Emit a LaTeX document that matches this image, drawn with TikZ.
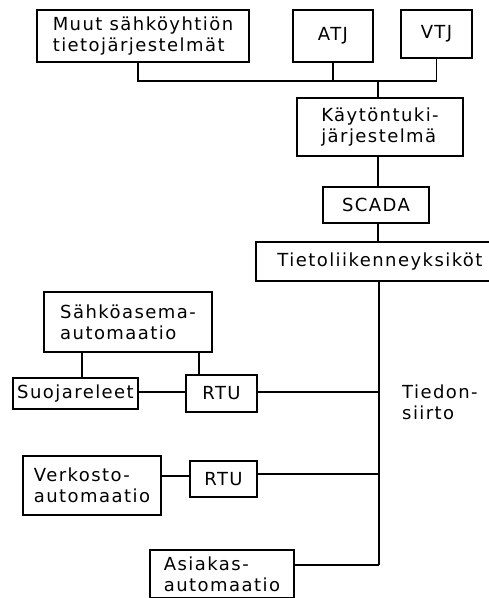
\documentclass[tikz,border=0pt]{standalone}
\usepackage{fontspec}
\setmainfont{DejaVu Sans}[LetterSpace=8]
\begin{document}
\begin{tikzpicture}[x=1pt,y=-1pt,
  box/.style={draw,line width=1.4pt,inner sep=0pt,align=left,font=\fontsize{18}{21}\selectfont},
  wire/.style={line width=1.4pt},
  lbl/.style={inner sep=0pt,align=left,font=\fontsize{18}{21}\selectfont}]
\useasboundingbox (0,0) rectangle (489,598);
\node[box,minimum width=212,minimum height=52] (muut) at (143,36) {Muut sähköyhtiön\\tietojärjestelmät};
\node[box,minimum width=80,minimum height=52] (atj) at (333,36) {ATJ};
\node[box,minimum width=71,minimum height=48] (vtj) at (436.5,34) {VTJ};
\node[box,minimum width=166,minimum height=58] (kayt) at (380,127) {Käytöntuki-\\järjestelmä};
\node[box,minimum width=106,minimum height=36] (scada) at (376,205) {SCADA};
\node[box,minimum width=238,minimum height=39] (tieto) at (375,261.5) {\hspace*{10pt}Tietoliikenneyksiköt};
\node[box,minimum width=168,minimum height=60] (sahko) at (128,322) {Sähköasema-\\automaatio};
\node[box,minimum width=125,minimum height=31] (suoja) at (75.5,393.5) {Suojareleet};
\node[box,minimum width=71,minimum height=37] (rtu1) at (221.5,393.5) {RTU};
\node[box,minimum width=138,minimum height=59] (verk) at (92,485.5) {Verkosto-\\automaatio};
\node[box,minimum width=67,minimum height=36] (rtu2) at (223.5,479) {RTU};
\node[box,minimum width=144,minimum height=48] (asiak) at (222,574) {Asiakas-\\automaatio};
\node[lbl,anchor=west] (tiedon) at (402,402) {Tiedon-\\siirto};
\coordinate (bus) at (378,81);
\coordinate (trunk) at (379,565);
% top bus
\draw[wire] ([xshift=-5pt]muut.south) |- (bus) -| (vtj.south);
\draw[wire] (atj.south) -- (atj.south |- bus);
\draw[wire] (bus) -- (bus |- kayt.north);
\draw[wire] (kayt.south -| bus) -- (scada.north -| bus);
\draw[wire] (scada.south -| bus) -- (tieto.north -| bus);
\draw[wire] (tieto.south -| trunk) -- (trunk);
% substation
\draw[wire] ([xshift=6.5pt]suoja.north) -- ([xshift=6.5pt]suoja.north |- sahko.south);
\draw[wire] ([xshift=-22.5pt]rtu1.north) -- ([xshift=-22.5pt]rtu1.north |- sahko.south);
\draw[wire] ([yshift=1.5pt]suoja.east) -- ([yshift=1.5pt]rtu1.west);
\draw[wire] ([yshift=1.5pt]rtu1.east) -- ([yshift=1.5pt]rtu1.east -| trunk);
% network
\draw[wire] ([yshift=3pt]verk.east |- rtu2.west) -- ([yshift=3pt]rtu2.west);
\draw[wire] ([yshift=5pt]rtu2.east) -- ([yshift=5pt]rtu2.east -| trunk);
% customer
\draw[wire] ([yshift=9pt]asiak.east) -- ([yshift=9pt]asiak.east -| trunk);
\end{tikzpicture}
\end{document}
